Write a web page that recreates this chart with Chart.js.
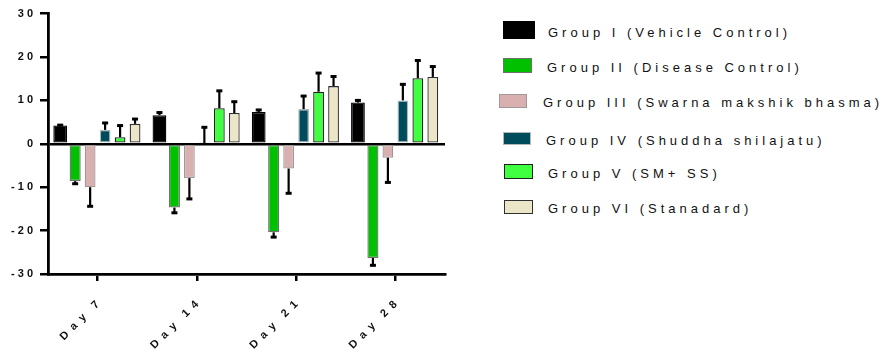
<!DOCTYPE html>
<html><head><meta charset="utf-8">
<script src="https://cdn.jsdelivr.net/npm/chart.js@4"></script>
<style>
html,body{margin:0;padding:0;background:#fff}
body{width:890px;height:354px;overflow:hidden;position:relative;font-family:"Liberation Sans",Arial,sans-serif}
#wrap{position:absolute;left:0;top:0;width:460px;height:354px}
.sw{position:absolute;box-sizing:border-box;border:1.5px solid #000}
.lt{position:absolute;font-size:13px;letter-spacing:4px;color:#111;white-space:nowrap;line-height:16px}
</style></head><body>
<div id="wrap"><canvas id="c"></canvas></div>
<div id="legend"></div>
<script>
// ---- data ----
const categories = ['Day 7', 'Day 14', 'Day 21', 'Day 28'];
const seriesNames = [
  'Group I (Vehicle Control)',
  'Group II (Disease Control)',
  'Group III (Swarna makshik bhasma)',
  'Group IV (Shuddha shilajatu)',
  'Group V (SM+ SS)',
  'Group VI (Stanadard)'
];
const groupI   = [4.2, 6.6, 7.3, 9.5];
const groupII  = [-8.6, -14.7, -20.4, -26.3];
const groupIII = [-10.0, -7.9, -5.7, -3.2];
const groupIV  = [3.2, 0.2, 8.0, 10.0];
const groupV   = [1.5, 8.2, 12.0, 15.1];
const groupVI  = [4.6, 7.1, 13.3, 15.4];
const errI   = [0.1, 0.6, 0.5, 0.5];
const errII  = [0.6, 1.2, 1.1, 1.7];
const errIII = [4.4, 4.8, 5.7, 5.7];
const errIV  = [1.6, 3.6, 3.0, 3.7];
const errV   = [2.7, 4.0, 4.3, 4.1];
const errVI  = [1.1, 2.6, 2.2, 2.4];
const yTicks = [-30, -20, -10, 0, 10, 20, 30];

// ---- styles ----
const fills   = ['#000000', '#00c000', '#d8b0b0', '#004c5c', '#40ff40', '#ece6c8'];
const borders = ['#000000', '#707070', '#a09898', '#b0b8b8', '#202020', '#303030'];
const barPct  = [0.92, 0.74, 0.72, 0.72, 0.72, 0.72];
const values = [groupI, groupII, groupIII, groupIV, groupV, groupVI];
const errors = [errI, errII, errIII, errIV, errV, errVI];

// letter-spaced rendering of tick text (GraphPad style)
const spaced = (s, gap, wgap) => String(s).split(' ').map(w => w.split('').join(gap)).join(wgap);

const datasets = values.map((v, i) => ({
  label: seriesNames[i],
  data: v,
  errors: errors[i],
  backgroundColor: fills[i],
  borderColor: borders[i],
  borderWidth: 1.3,
  borderSkipped: false,
  barPercentage: barPct[i],
  categoryPercentage: 0.905
}));

const errorBars = {
  id: 'errorBars',
  afterDatasetsDraw(chart) {
    const ctx = chart.ctx, ys = chart.scales.y;
    ctx.save();
    ctx.fillStyle = '#000';
    ctx.strokeStyle = '#000';
    chart.data.datasets.forEach((ds, i) => {
      const meta = chart.getDatasetMeta(i);
      meta.data.forEach((el, j) => {
        const v = ds.data[j], e = ds.errors[j];
        const s = v >= 0 ? 1 : -1;
        const y0 = ys.getPixelForValue(v);
        const y1 = ys.getPixelForValue(v + s * e);
        ctx.lineWidth = 2.2;
        ctx.beginPath();
        ctx.moveTo(el.x, y0);
        ctx.lineTo(el.x, y1);
        ctx.stroke();
        ctx.beginPath();
        ctx.rect(el.x - 3, y1 - 1.5, 6, 3);
        ctx.fill();
      });
    });
    ctx.restore();
  }
};

const tickFont = { family: '"Liberation Sans", Arial, sans-serif', size: 11, weight: 'bold' };

new Chart(document.getElementById('c'), {
  type: 'bar',
  data: { labels: categories, datasets },
  plugins: [errorBars],
  options: {
    responsive: true,
    maintainAspectRatio: false,
    animation: false,
    layout: { padding: { top: 13, right: 15, left: 0, bottom: 0 } },
    plugins: { legend: { display: false }, tooltip: { enabled: false } },
    scales: {
      x: {
        grid: { offset: false, drawOnChartArea: false, drawTicks: true, tickLength: 7, tickColor: '#000', lineWidth: 2.5 },
        border: { display: true, color: '#000', width: 2.8 },
        ticks: {
          color: '#111', font: tickFont, minRotation: 45, maxRotation: 45, padding: 17, autoSkip: false,
          callback(v) { return spaced(this.getLabelForValue(v), '  ', '    '); }
        },
        afterFit(s) { s.height = 80; }
      },
      y: {
        min: -30, max: 30,
        afterBuildTicks(s) { s.ticks = yTicks.map(v => ({ value: v })); },
        grid: {
          drawOnChartArea: true, drawTicks: true, tickLength: 8, tickColor: '#000', lineWidth: 2.5,
          color: c => (c.tick && c.tick.value === 0) ? '#000' : 'rgba(0,0,0,0)'
        },
        border: { display: true, color: '#000', width: 2.8 },
        ticks: { color: '#111', font: tickFont, padding: 7, callback: v => spaced(v, ' ', ' ') },
        afterFit(s) { s.width = 48; }
      }
    }
  }
});

// ---- legend (HTML) ----
const legendLayout = [
  { sx: 503, sy: 21, sw: 32, sh: 18, tx: 548, ty: 33 },
  { sx: 503, sy: 58, sw: 29, sh: 15, tx: 547, ty: 68 },
  { sx: 499, sy: 94, sw: 28, sh: 14, tx: 543, ty: 103 },
  { sx: 503, sy: 132, sw: 28, sh: 13, tx: 546, ty: 141 },
  { sx: 504, sy: 164, sw: 29, sh: 15, tx: 548, ty: 174 },
  { sx: 504, sy: 200, sw: 29, sh: 14, tx: 548, ty: 209 }
];
const lg = document.getElementById('legend');
seriesNames.forEach((name, i) => {
  const L = legendLayout[i];
  const sw = document.createElement('div');
  sw.className = 'sw';
  sw.style.cssText = `left:${L.sx}px;top:${L.sy}px;width:${L.sw}px;height:${L.sh}px;background:${fills[i]};border-color:${borders[i]}`;
  lg.appendChild(sw);
  const t = document.createElement('div');
  t.className = 'lt';
  t.textContent = name;
  t.style.left = L.tx + 'px';
  t.style.top = (L.ty - 8) + 'px';
  lg.appendChild(t);
});
</script>
</body></html>
